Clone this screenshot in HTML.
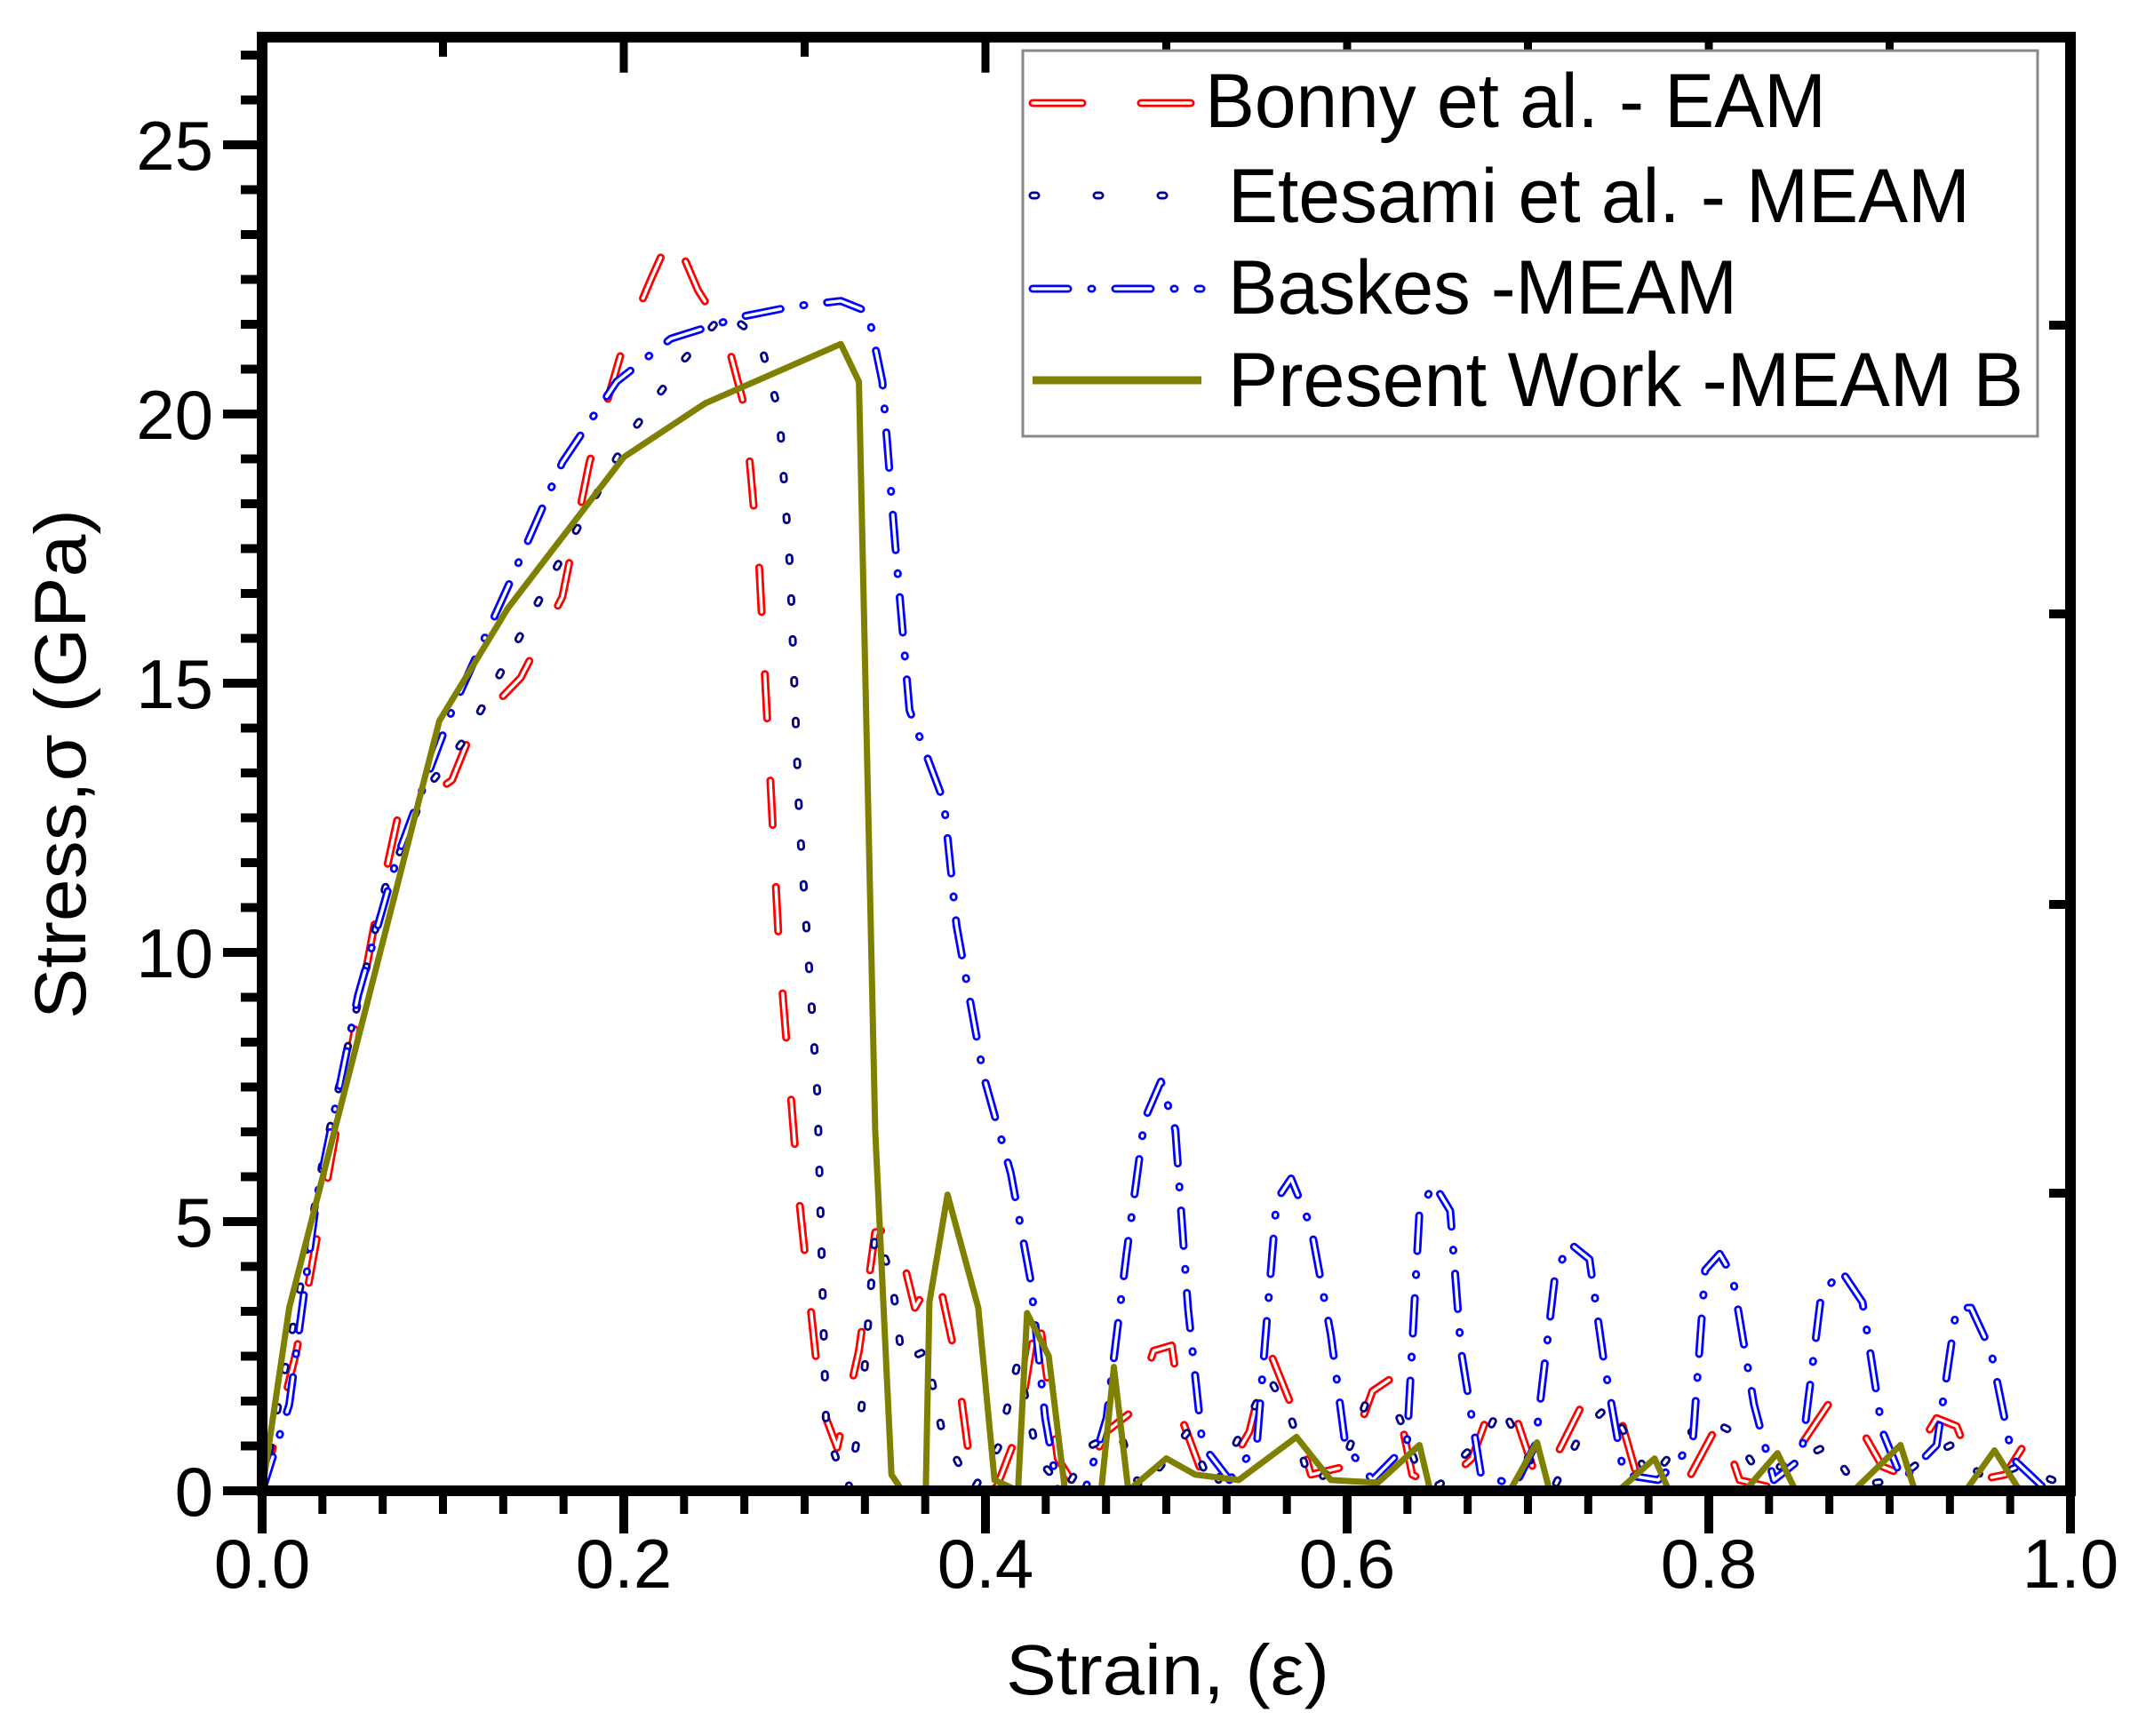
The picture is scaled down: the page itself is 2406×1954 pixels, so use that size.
<!DOCTYPE html>
<html><head><meta charset="utf-8"><style>
html,body{margin:0;padding:0;background:#fff;}
svg{display:block;font-family:"Liberation Sans",Arial,sans-serif;}
</style></head><body>
<svg id="chart" width="2406" height="1954" viewBox="0 0 2406 1954" xmlns="http://www.w3.org/2000/svg">
<rect x="0" y="0" width="2406" height="1954" fill="#fff"/>
<g id="series"></g>
<g id="axes"></g>
<g id="legend"></g>
<text x="1314" y="1907" font-size="80" text-anchor="middle" textLength="364" lengthAdjust="spacingAndGlyphs">Strain, (ε)</text>
<text transform="translate(96,860) rotate(-90)" font-size="82" text-anchor="middle" textLength="574" lengthAdjust="spacingAndGlyphs">Stress,σ (GPa)</text>
</svg>
<script>
const xTicks=[0,0.2,0.4,0.6,0.8,1.0];
const xTickLabels=["0.0","0.2","0.4","0.6","0.8","1.0"];
const yTicks=[0,5,10,15,20,25];
const yTickLabels=["0","5","10","15","20","25"];
const bonnyX=[0,.019,.041,.062,.075,.105,.117,.143,.166,.181,.2,.215,.227,.241,.256,.267,.275,.286,.297,.309,.318,.33,.339,.35,.361,.373,.384,.393,.406,.418,.429,.44,.451,.467,.482,.493,.503,.509,.52,.535,.546,.557,.569,.58,.599,.614,.625,.636,.651,.669,.681,.694,.706,.715,.73,.749,.76,.772,.79,.806,.817,.836,.851,.866,.875,.885,.896,.907,.926,.937,.949,.964,.979,1.0];
const bonnyY=[0,2.6,6.7,10.5,12.5,13.2,14.2,15.1,16.6,19.1,21.3,22.5,23.4,22.3,21.5,20.1,17.1,10,5.4,1.6,.8,2.6,4.8,4.9,3.4,4.1,2.4,.1,.05,1.1,3.4,.6,0,1.1,1.5,2.6,2.7,1.3,.3,.45,1.1,2.6,1.6,.3,.45,1.85,2.1,.3,.05,.6,1.7,1.3,.1,.6,1.6,1.6,.3,.2,.3,1.3,.2,.05,.85,1.6,1.7,1.1,.45,.3,1.35,1.2,.2,.3,1.1,1.35];
const etesamiX=[0,.019,.034,.049,.068,.09,.113,.143,.173,.203,.233,.256,.275,.286,.292,.297,.307,.309,.312,.324,.331,.339,.348,.354,.367,.376,.393,.407,.418,.429,.444,.459,.474,.486,.512,.526,.538,.557,.569,.58,.599,.61,.629,.64,.651,.663,.678,.685,.7,.715,.73,.745,.757,.768,.783,.798,.813,.828,.851,.866,.881,.904,.919,.934,.953,.971,.99];
const etesamiY=[0,3.4,6.2,8.5,11.2,13,14,15.9,17.8,19.6,21,21.9,21.4,20,17.1,12.5,7.4,4.9,1.1,0,1.35,4.8,4,2.4,2.6,1.1,0,.8,2.4,.6,0,.85,1.1,0,1.1,0,.85,2.1,1.35,.1,.6,1.6,1.35,.3,.1,.6,1.1,1.6,.6,.1,1.1,1.6,.85,.2,.85,1.35,1.1,.3,.6,.85,.1,.2,.6,.85,.2,.45,.2];
const baskesX=[0,.015,.03,.053,.075,.105,.136,.166,.196,.226,.264,.294,.32,.335,.343,.35,.358,.377,.384,.399,.414,.425,.433,.44,.455,.467,.478,.488,.497,.505,.512,.52,.535,.55,.561,.569,.58,.591,.599,.614,.633,.64,.648,.657,.663,.674,.693,.704,.715,.723,.734,.742,.753,.772,.791,.798,.806,.813,.825,.836,.851,.862,.873,.885,.896,.907,.926,.937,.945,.956,.968,.987];
const baskesY=[0,1.6,5.4,9.2,11.8,14.5,16.8,19.1,20.6,21.4,21.8,22,22.1,21.9,20.6,17.6,14.5,12.8,10.5,7.7,5.9,3.9,1.35,0,0,1.35,4.4,6.9,7.6,6.7,3.4,.85,.2,.85,5.4,5.8,4.9,2.9,.85,.2,.85,5.2,5.7,5.2,2.6,.3,.1,.85,4,4.6,4.3,2.4,.3,.2,.85,4.1,4.4,4,1.6,.2,.6,3.6,4.1,3.5,1.1,.2,.85,3.4,3.4,2.6,.6,0];
const presentX=[0,.015,.098,.136,.2,.245,.32,.33,.339,.348,.354,.367,.369,.379,.396,.405,.418,.423,.435,.444,.464,.471,.479,.5,.516,.54,.572,.591,.617,.64,.646,.69,.705,.712,.75,.77,.778,.82,.838,.848,.88,.906,.914,.942,.958,.972,1.0];
const presentY=[0,3.4,14.3,16.4,19.2,20.2,21.3,20.6,6.7,.3,0,0,3.5,5.5,3.4,.2,0,3.3,2.5,0,0,2.3,0,.6,.3,.2,1.0,.2,.15,.85,0,0,.9,0,0,.6,0,0,.7,0,0,.85,0,0,.75,0,0];
const NS="http://www.w3.org/2000/svg";
const X0=295,X1=2330,Y0=1678,UNIT=60.6,YMAX=27;
function sx(v){return X0+v*(X1-X0);}
function sy(v){return Y0-v*UNIT;}
const svg=document.getElementById('chart');
const gS=document.getElementById('series'),gA=document.getElementById('axes'),gL=document.getElementById('legend');
function mk(tag,attrs,parent){const e=document.createElementNS(NS,tag);for(const k in attrs)e.setAttribute(k,attrs[k]);parent.appendChild(e);return e;}
function pathD(xs,ys){return xs.map((x,i)=>(i?'L':'M')+sx(x).toFixed(1)+' '+sy(ys[i]).toFixed(1)).join(' ');}
function hollow(d,color,dash,name,parent){
  const a=mk('path',{d:d,fill:'none',stroke:color,'stroke-width':9,'stroke-dasharray':dash,'stroke-linecap':'round','stroke-linejoin':'round'},parent);
  
  
  const b=mk('path',{d:d,fill:'none',stroke:'#fff','stroke-width':3.5,'stroke-dasharray':dash,'stroke-linecap':'round','stroke-linejoin':'round'},parent);
  
  
}
hollow(pathD(bonnyX,bonnyY),'#ff0000','50 70','bonny-eam-line',gS);
hollow(pathD(etesamiX,etesamiY),'#00008b','4 42','etesami-meam-line',gS);
hollow(pathD(baskesX,baskesY),'#0000ff','40 26 1 26','baskes-meam-line',gS);
const pw=mk('path',{d:pathD(presentX,presentY),fill:'none',stroke:'#808000','stroke-width':7,'stroke-linejoin':'round'},gS);


// frame
const fr=mk('rect',{x:X0,y:sy(YMAX),width:X1-X0,height:Y0-sy(YMAX),fill:'none',stroke:'#000','stroke-width':12},gA);


// x ticks
for(let i=0;i<=30;i++){const v=i/30;const major=(i%6===0);
  const t=mk('line',{x1:sx(v),x2:sx(v),y1:Y0,y2:Y0+(major?48:26),stroke:'#000','stroke-width':major?10:9},gA);
  
  }
for(let i=1;i<10;i++){const v=i/10;const major=(i%2===0);
  const t=mk('line',{x1:sx(v),x2:sx(v),y1:sy(YMAX),y2:sy(YMAX)+(major?40:22),stroke:'#000','stroke-width':9},gA);
  
  }
xTicks.forEach((v,i)=>{const t=mk('text',{x:sx(v),y:1787,'font-size':78,'text-anchor':'middle'},gA);t.textContent=xTickLabels[i];
  
  });
// y ticks
for(let i=0;i<=32;i++){const v=i*5/6;if(v>YMAX)break;const major=(i%6===0);
  const t=mk('line',{x1:X0,x2:X0-(major?44:24),y1:sy(v),y2:sy(v),stroke:'#000','stroke-width':10},gA);
  
  }
yTicks.forEach((v,i)=>{const t=mk('text',{x:240,y:sy(v)+28,'font-size':78,'text-anchor':'end'},gA);t.textContent=yTickLabels[i];
  
  });
[366,691,1018,1343].forEach(y=>{const t=mk('line',{x1:X1,x2:X1-24,y1:y,y2:y,stroke:'#000','stroke-width':10},gA);
  
  });
// legend
const lb=mk('rect',{x:1151,y:57,width:1142,height:434,fill:'#fff',stroke:'#888','stroke-width':3},gL);


const legNames=["Bonny et al. - EAM","Etesami et al. - MEAM","Baskes -MEAM","Present Work -MEAM B"];
const legTx=[1356,1382,1382,1382],legBase=[143,250,353,457],legW=[699,835,573,895],legMid=[116,220,325,428];
function legLine(y,kind){const d='M1162 '+y+' L1352 '+y;
  if(kind===0)hollow(d,'#ff0000','56 66','legend-sample-bonny',gL);
  if(kind===1)hollow(d,'#00008b','4 68','legend-sample-etesami',gL);
  if(kind===2)hollow(d,'#0000ff','40 26 1 26','legend-sample-baskes',gL);
  if(kind===3){const p=mk('path',{d:d,stroke:'#808000','stroke-width':9},gL);
    
    }}
legNames.forEach((n,i)=>{legLine(legMid[i],i);
  const t=mk('text',{x:legTx[i],y:legBase[i],'font-size':86,textLength:legW[i],lengthAdjust:'spacingAndGlyphs'},gL);t.textContent=n;
  
  });
</script>
</body></html>
